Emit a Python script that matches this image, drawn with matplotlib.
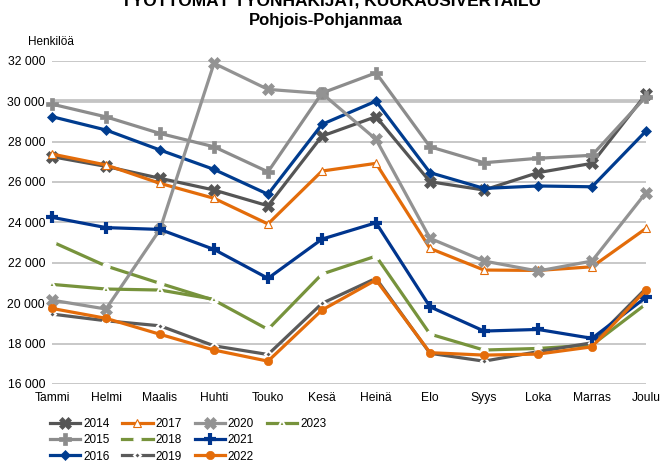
import matplotlib
matplotlib.use("Agg")
import matplotlib.pyplot as plt
from matplotlib.ticker import FuncFormatter
from matplotlib.lines import Line2D

plt.rcParams['font.family'] = ['Liberation Sans', 'DejaVu Sans']

months = ["Tammi", "Helmi", "Maalis", "Huhti", "Touko", "Kesä", "Heinä",
          "Elo", "Syys", "Loka", "Marras", "Joulu"]

y2014 = [27250, 26770, 26180, 25600, 24820, 28270, 29230, 26010, 25600, 26460, 26920, 30340]
y2015 = [29850, 29220, 28400, 27740, 26500, 30400, 31400, 27740, 26950, 27170, 27320, 30220]
y2016 = [29230, 28570, 27580, 26620, 25390, 28850, 30000, 26460, 25680, 25800, 25760, 28520]
y2017 = [27380, 26840, 25930, 25190, 23920, 26540, 26920, 22710, 21640, 21620, 21800, 23700]
y2018 = [23040, 21840, 20980, 20150, 18700, 21440, 22330, 18470, 17680, 17760, 17930, 19960]
y2019 = [19460, 19130, 18880, 17890, 17460, 19990, 21230, 17520, 17130, 17600, 18040, 20730]
y2020 = [20150, 19710, 23650, 31870, 30580, 30380, 28110, 23210, 22085, 21590, 22085, 25470]
y2021 = [24250, 23740, 23650, 22660, 21230, 23170, 23980, 19820, 18620, 18700, 18260, 20290]
y2022 = [19740, 19250, 18460, 17680, 17130, 19660, 21150, 17550, 17430, 17480, 17840, 20650]
y2023 = [20930, 20700, 20650, 20190]

years = ["2014", "2015", "2016", "2017", "2018", "2019", "2020", "2021", "2022", "2023"]
series = [y2014, y2015, y2016, y2017, y2018, y2019, y2020, y2021, y2022, y2023]

styles = {
    "2014": dict(color="#555555", marker="X", ms=8, mfc="#555555", mec="#555555", mew=0.5, lw=2.3),
    "2015": dict(color="#8c8c8c", marker="P", ms=8, mfc="#8c8c8c", mec="#8c8c8c", mew=0.5, lw=2.3),
    "2016": dict(color="#003c8f", marker="D", ms=5.5, mfc="#003c8f", mec="#003c8f", mew=0.5, lw=2.3),
    "2017": dict(color="#e36c0a", marker="^", ms=6, mfc="white", mec="#e36c0a", mew=0.8, lw=2.3),
    "2018": dict(color="#77933c", marker="o", ms=5, mfc="white", mec="white", mew=1.0, lw=2.3),
    "2019": dict(color="#5a5a5a", marker="D", ms=3.5, mfc="#5a5a5a", mec="white", mew=1.5, lw=2.3),
    "2020": dict(color="#939393", marker="X", ms=9, mfc="#939393", mec="#939393", mew=0.5, lw=2.3),
    "2021": dict(color="#00358e", marker="+", ms=9, mfc="#00358e", mec="#00358e", mew=3.0, lw=2.3),
    "2022": dict(color="#e46c0a", marker="o", ms=6, mfc="#e46c0a", mec="#e46c0a", mew=0.5, lw=2.3),
    "2023": dict(color="#77933c", marker="^", ms=4, mfc="#77933c", mec="white", mew=1.5, lw=2.3),
}

fig = plt.figure(figsize=(6.62, 4.62), dpi=100)
ax = fig.add_axes([52/662, 1-384/462, (646-52)/662, (384-60.7)/462])

ax.set_ylim(16000, 32000)
ax.set_xlim(0, 11)
ax.set_yticks(range(16000, 32001, 2000))
ax.yaxis.set_major_formatter(FuncFormatter(lambda v, p: f"{int(v):,}".replace(",", " ")))
ax.set_xticks(range(12))
ax.set_xticklabels(months)
ax.tick_params(axis='both', length=0, labelsize=8.7, colors="#000000")
ax.tick_params(axis='x', pad=6)
ax.tick_params(axis='y', pad=5)
for s in ax.spines.values():
    s.set_visible(False)
ax.grid(axis='y', color="#c4c4c4", lw=1.3)
ax.set_axisbelow(True)
ax.axhline(30000, color="#c8c8c8", lw=2.8, zorder=0.5)

handles = []
labels = []
for yr, vals in zip(years, series):
    st = styles[yr]
    h, = ax.plot(range(len(vals)), vals, label=yr, clip_on=False, solid_joinstyle='miter', **st)
    handles.append(h)
    labels.append(yr)

# two invisible placeholders so the columns fill 3,3,3,1 like the reference
for _ in range(2):
    handles.append(Line2D([], [], alpha=0))
    labels.append(" ")

leg = fig.legend(handles=handles, labels=labels, loc='upper left',
                 bbox_to_anchor=(50/662, 1-418/462),
                 ncol=4, frameon=False, fontsize=8.5, borderpad=0, borderaxespad=0,
                 handlelength=2.55, handletextpad=0.25, columnspacing=1.1,
                 labelspacing=0.36, numpoints=1)

fig.text(0.5, 0.997, "TYÖTTÖMÄT TYÖNHAKIJAT, KUUKAUSIVERTAILU", ha='center', va='center',
         fontsize=12.5, fontweight='bold')
fig.text(326/662, 1-21/462, "Pohjois-Pohjanmaa", ha='center', va='center',
         fontsize=12, fontweight='bold')
fig.text(28/662, 1-42/462, "Henkilöä", ha='left', va='center', fontsize=8.5)

fig.savefig("out.png", dpi=100)
